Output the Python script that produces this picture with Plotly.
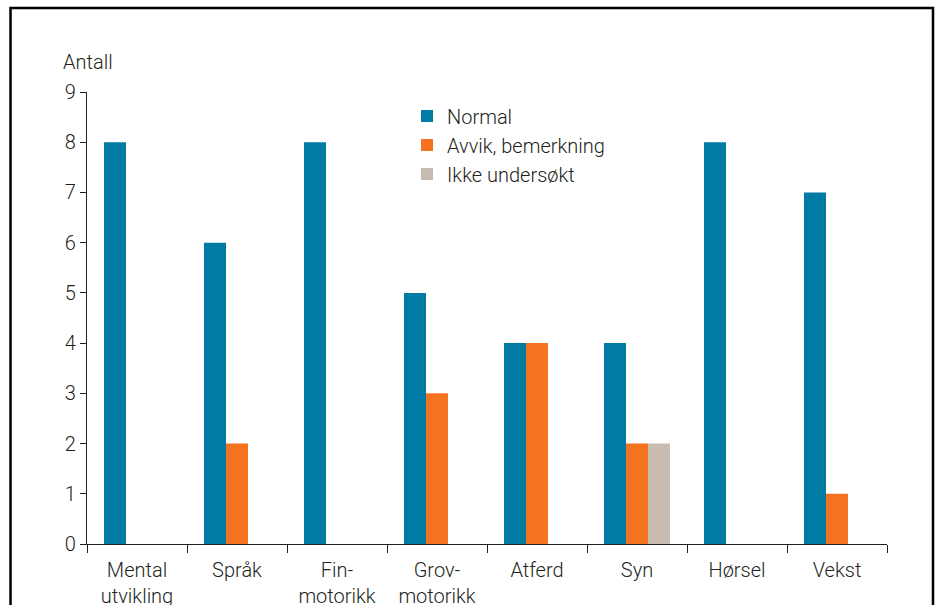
import plotly.graph_objects as go

categories = ["Mental<br>utvikling", "Språk", "Fin-<br>motorikk", "Grov-<br>motorikk",
              "Atferd", "Syn", "Hørsel", "Vekst"]
normal = [8, 6, 8, 5, 4, 4, 8, 7]
avvik = [0, 2, 0, 3, 4, 2, 0, 1]
ikke = [0, 0, 0, 0, 0, 2, 0, 0]

series_names = ["Normal", "Avvik, bemerkning", "Ikke undersøkt"]
series_colors = ["#007BA4", "#F47321", "#C8BCB0"]
y_ticks = list(range(0, 10))

TXT = "#231F20"
FONT = "Roboto"
W = 300

fig = go.Figure()
for name, vals, col in zip(series_names, [normal, avvik, ikke], series_colors):
    fig.add_trace(go.Bar(x=categories, y=vals, name=name, marker_color=col,
                         marker_line_width=0))

fig.update_layout(
    width=939, height=605,
    margin=dict(l=87, r=52, t=92, b=61),
    paper_bgcolor="white", plot_bgcolor="white",
    font=dict(family=FONT, size=20, color=TXT, weight=W),
    barmode="group", bargap=0.34, bargroupgap=0,
    showlegend=True,
    legend=dict(x=0.40, y=0.99, xanchor="left", yanchor="top",
                font=dict(size=20, color=TXT, weight=W), bgcolor="rgba(0,0,0,0)",
                itemclick=False, tracegroupgap=0),
    xaxis=dict(showline=True, linecolor=TXT, linewidth=1.3, ticks="outside",
               tickson="boundaries", ticklen=8, tickcolor=TXT, tickwidth=1.3,
               showgrid=False, zeroline=False, automargin=False,
               ticklabelstandoff=8,
               tickfont=dict(size=20, color=TXT, weight=W)),
    yaxis=dict(range=[0, 9], tickvals=y_ticks, showline=True, linecolor=TXT,
               linewidth=1.3, ticks="outside", ticklen=6, tickcolor=TXT,
               tickwidth=1.3, showgrid=False, zeroline=False, automargin=False,
               tickfont=dict(size=20, color=TXT, weight=W)),
    annotations=[dict(text="Antall", xref="paper", yref="paper", x=-0.032, y=1.066,
                      xanchor="left", yanchor="middle", showarrow=False,
                      font=dict(size=20, color=TXT, weight=W))],
    shapes=[dict(type="rect", xref="paper", yref="paper",
                 x0=-0.0956, x1=1.0575, y0=-0.3, y1=1.186,
                 line=dict(color="black", width=2.5), layer="above")],
)

fig.write_html("out.html")
